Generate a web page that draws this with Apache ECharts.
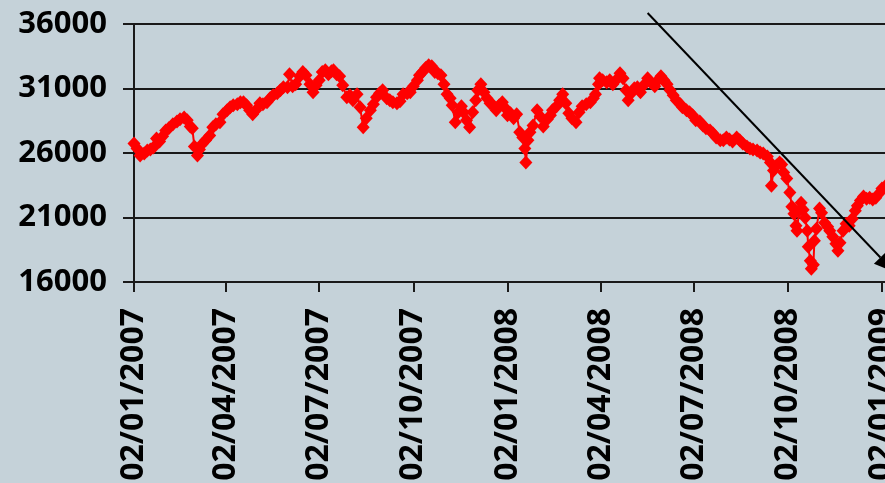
<!DOCTYPE html>
<html>
<head>
<meta charset="utf-8">
<script src="https://cdn.jsdelivr.net/npm/echarts@6/dist/echarts.min.js"></script>
<style>
  html, body { margin: 0; padding: 0; background: #c5d2d9; }
  #chart { width: 885px; height: 483px; }
</style>
</head>
<body>
<div id="chart"></div>
<script>
// Index closing levels, Jan 2007 - Jan 2009
const dates = [
  '2007-01-02','2007-01-05','2007-01-08','2007-01-12','2007-01-15','2007-01-18','2007-01-21','2007-01-24','2007-01-27','2007-01-30',
  '2007-02-02','2007-02-05','2007-02-09','2007-02-13','2007-02-16','2007-02-20','2007-02-23','2007-02-26','2007-02-28',
  '2007-03-02','2007-03-05','2007-03-07','2007-03-10','2007-03-13','2007-03-17','2007-03-20','2007-03-23','2007-03-27','2007-03-30',
  '2007-04-03','2007-04-06','2007-04-09','2007-04-13','2007-04-16','2007-04-19','2007-04-22','2007-04-25','2007-04-28',
  '2007-05-01','2007-05-05','2007-05-08','2007-05-12','2007-05-15','2007-05-18','2007-05-22','2007-05-25','2007-05-28',
  '2007-06-01','2007-06-03','2007-06-06','2007-06-09','2007-06-13','2007-06-16','2007-06-19','2007-06-23','2007-06-26','2007-06-29',
  '2007-07-02','2007-07-05','2007-07-08','2007-07-11','2007-07-14','2007-07-16','2007-07-19','2007-07-22','2007-07-25','2007-07-29',
  '2007-08-01','2007-08-04','2007-08-08','2007-08-11','2007-08-14','2007-08-17','2007-08-21','2007-08-24','2007-08-27','2007-08-30',
  '2007-09-02','2007-09-06','2007-09-09','2007-09-12','2007-09-16','2007-09-19','2007-09-22','2007-09-26','2007-09-29',
  '2007-10-02','2007-10-06','2007-10-08','2007-10-11','2007-10-14','2007-10-17','2007-10-20','2007-10-23','2007-10-26','2007-10-29',
  '2007-11-01','2007-11-04','2007-11-07','2007-11-09','2007-11-12','2007-11-15','2007-11-18','2007-11-20','2007-11-23','2007-11-26','2007-11-29',
  '2007-12-02','2007-12-04','2007-12-07','2007-12-10','2007-12-13','2007-12-16','2007-12-19','2007-12-22','2007-12-25','2007-12-28','2007-12-31',
  '2008-01-02','2008-01-05','2008-01-08','2008-01-11','2008-01-14','2008-01-17','2008-01-19','2008-01-20','2008-01-22','2008-01-24','2008-01-27','2008-01-31',
  '2008-02-03','2008-02-06','2008-02-10','2008-02-13','2008-02-15','2008-02-19','2008-02-22','2008-02-25','2008-02-28',
  '2008-03-02','2008-03-05','2008-03-09','2008-03-12','2008-03-15','2008-03-19','2008-03-23','2008-03-26','2008-03-28','2008-03-31',
  '2008-04-01','2008-04-04','2008-04-08','2008-04-11','2008-04-14','2008-04-17','2008-04-21','2008-04-24','2008-04-27','2008-04-29',
  '2008-05-02','2008-05-05','2008-05-08','2008-05-11','2008-05-15','2008-05-18','2008-05-21','2008-05-25','2008-05-28','2008-05-31',
  '2008-06-03','2008-06-06','2008-06-09','2008-06-12','2008-06-15','2008-06-19','2008-06-21','2008-06-25','2008-06-28',
  '2008-07-01','2008-07-04','2008-07-08','2008-07-11','2008-07-14','2008-07-18','2008-07-21','2008-07-24','2008-07-28','2008-07-31',
  '2008-08-03','2008-08-06','2008-08-09','2008-08-13','2008-08-16','2008-08-19','2008-08-23','2008-08-26','2008-08-29',
  '2008-09-02','2008-09-05','2008-09-08','2008-09-12','2008-09-15','2008-09-16','2008-09-18','2008-09-21','2008-09-24','2008-09-26','2008-09-28',
  '2008-10-01','2008-10-04','2008-10-06','2008-10-08','2008-10-10','2008-10-11','2008-10-13','2008-10-15','2008-10-17','2008-10-19',
  '2008-10-21','2008-10-22','2008-10-24','2008-10-25','2008-10-27','2008-10-28','2008-10-30',
  '2008-11-02','2008-11-04','2008-11-07','2008-11-10','2008-11-12','2008-11-15','2008-11-18','2008-11-20','2008-11-22','2008-11-25','2008-11-28',
  '2008-12-01','2008-12-04','2008-12-07','2008-12-09','2008-12-12','2008-12-15','2008-12-18','2008-12-21','2008-12-24','2008-12-27','2008-12-30',
  '2009-01-02','2009-01-05'
];

const values = [
  26740,26350,25810,25960,26200,26280,26430,27130,26900,27290,
  27750,27910,28220,28450,28610,28760,28530,28060,27910,
  26510,25810,26280,26740,26980,27360,27990,28220,28380,29000,
  29310,29540,29700,29780,29930,29930,29700,29310,29000,
  29310,29850,29780,29930,30240,30480,30630,30870,31100,
  31100,32110,31180,31330,31950,32270,32030,31330,30710,31250,
  31640,32270,32420,32110,32340,32420,32110,31950,31250,30320,
  30480,30090,30550,29540,27990,28690,29310,29780,30320,30630,
  30870,30240,30090,29930,29850,30010,30550,30630,30710,
  31180,31640,32030,32270,32580,32810,32730,32270,32190,32030,
  31330,30550,30240,29700,28380,29150,29620,29150,28530,27990,29150,
  30090,30870,31330,30710,30240,29850,29700,29310,29700,29930,29470,
  28920,29080,28690,29000,27600,27210,26350,25260,26980,27600,28140,29310,
  28840,28060,28610,28920,29310,29620,30090,30550,29850,
  29080,28690,28380,29150,29620,29780,29930,30240,30550,31330,
  31800,31640,31490,31640,31330,31640,32190,31800,30870,30090,
  30630,31020,31100,30710,31330,31800,31490,31180,31640,31950,
  31640,31330,30870,30480,30090,29780,29540,29310,29150,
  28920,28530,28450,28140,27910,27750,27520,27210,26980,26980,
  27210,27050,26900,27210,26980,26740,26510,26350,26280,
  26200,26040,25960,25730,25260,23470,24640,25030,25260,25110,24490,
  24020,22930,21840,21300,20360,19970,21530,22150,21610,20990,
  19970,18730,17640,17020,17330,19200,20130,
  21690,21370,20600,20280,19970,19510,18960,18420,19040,19970,20520,
  20360,20910,21530,21920,22310,22620,22460,22540,22390,22540,22850,
  23240,23400
];

// Quarterly tick dates on the horizontal axis
const tickDates = [
  '2007-01-02','2007-04-02','2007-07-02','2007-10-02',
  '2008-01-02','2008-04-02','2008-07-02','2008-10-02','2009-01-02'
];

// Value axis range
const yMin = 16000, yMax = 36000, yStep = 5000;

// Trend arrow, start and tip in data terms
const trendStart = ['2008-05-18', 36850];
const trendEnd = ['2009-01-14', 16780];

const toTime = s => {
  const p = s.split('-').map(Number);
  return Date.UTC(p[0], p[1] - 1, p[2]);
};
const pad = n => (n < 10 ? '0' : '') + n;
const fmtDate = v => {
  const d = new Date(v);
  return pad(d.getUTCDate()) + '/' + pad(d.getUTCMonth() + 1) + '/' + d.getUTCFullYear();
};

const FONT = '"Open Sans", "Liberation Sans", Arial, sans-serif';
const AXIS_COLOR = '#1a1a1a';

const chart = echarts.init(document.getElementById('chart'), null, { renderer: 'canvas' });

chart.setOption({
  animation: false,
  backgroundColor: '#c5d2d9',
  grid: {
    left: 134, right: 0, top: 24, bottom: 201,
    containLabel: false,
    outerBoundsMode: 'none'
  },
  xAxis: {
    // linear axis over timestamps, labelled as dd/mm/yyyy
    type: 'value',
    min: toTime('2007-01-02'),
    max: toTime('2009-01-05'),
    axisLine: { show: true, onZero: false, lineStyle: { color: AXIS_COLOR, width: 2 } },
    axisTick: {
      show: true, length: 10, inside: false,
      customValues: tickDates.map(toTime),
      lineStyle: { color: AXIS_COLOR, width: 2 }
    },
    axisLabel: {
      show: true,
      customValues: tickDates.map(toTime),
      rotate: 90,
      margin: 26,
      formatter: v => fmtDate(v),
      color: '#000',
      fontFamily: FONT,
      fontWeight: 'bold',
      fontSize: 32,
      hideOverlap: false
    },
    splitLine: { show: false }
  },
  yAxis: {
    type: 'value',
    min: yMin,
    max: yMax,
    interval: yStep,
    axisLine: { show: true, lineStyle: { color: AXIS_COLOR, width: 2 } },
    axisTick: { show: true, length: 11, inside: false, lineStyle: { color: AXIS_COLOR, width: 2 } },
    axisLabel: {
      margin: 27,
      color: '#000',
      fontFamily: FONT,
      fontWeight: 'bold',
      fontSize: 31,
      formatter: v => String(v)
    },
    splitLine: { show: true, lineStyle: { color: AXIS_COLOR, width: 2 } }
  },
  series: [{
    type: 'line',
    data: dates.map((d, i) => [toTime(d), values[i]]),
    clip: false,
    symbol: 'diamond',
    symbolSize: [13, 14],
    showAllSymbol: true,
    itemStyle: { color: '#ff0000' },
    lineStyle: { color: '#ff0000', width: 2 }
  }]
});

// Trend arrow drawn over the plot, positioned through the chart's own scales
const p0 = chart.convertToPixel({ gridIndex: 0 }, [toTime(trendStart[0]), trendStart[1]]);
const p1 = chart.convertToPixel({ gridIndex: 0 }, [toTime(trendEnd[0]), trendEnd[1]]);
const dx = p1[0] - p0[0], dy = p1[1] - p0[1];
const len = Math.sqrt(dx * dx + dy * dy);
const ux = dx / len, uy = dy / len;
const headLen = 20, headHalf = 9;
const base = [p1[0] - ux * headLen, p1[1] - uy * headLen];

chart.setOption({
  graphic: [
    {
      type: 'line',
      shape: { x1: p0[0], y1: p0[1], x2: base[0], y2: base[1] },
      style: { stroke: '#000', lineWidth: 2 },
      z: 100
    },
    {
      type: 'polygon',
      shape: {
        points: [
          [p1[0], p1[1]],
          [base[0] - uy * headHalf, base[1] + ux * headHalf],
          [base[0] + uy * headHalf, base[1] - ux * headHalf]
        ]
      },
      style: { fill: '#000' },
      z: 100
    }
  ]
});
</script>
</body>
</html>
